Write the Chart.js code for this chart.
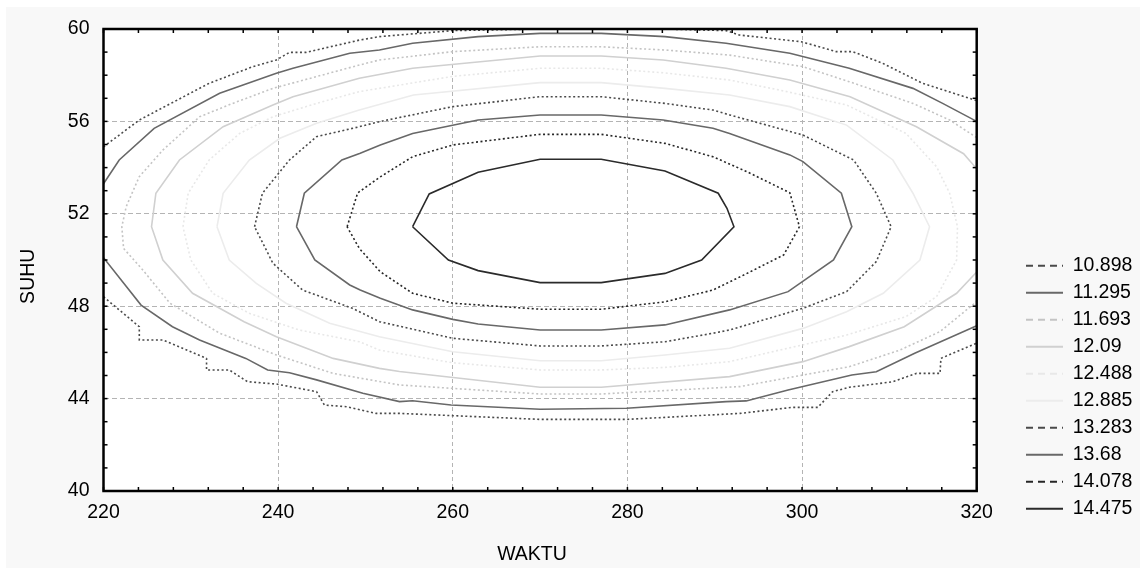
<!DOCTYPE html>
<html>
<head>
<meta charset="utf-8">
<title>Kontur SUHU vs WAKTU</title>
<script src="https://cdn.jsdelivr.net/npm/chart.js@4.4.1/dist/chart.umd.min.js"></script>
<style>
  html, body { margin: 0; padding: 0; background: #fff; }
  #wrap { width: 1140px; height: 568px; }
</style>
</head>
<body>
<div id="wrap"><canvas id="contour" width="1140" height="568"></canvas></div>
<script>
// contour levels, as printed in the legend
const levels = ['10.898', '11.295', '11.693', '12.09', '12.488', '12.885', '13.283', '13.68', '14.078', '14.475'];

const xTicks = [220, 240, 260, 280, 300, 320];
const yTicks = [40, 44, 48, 52, 56, 60];

// [WAKTU, SUHU] pairs; open contours are split in two pieces
const c10898Top = [[220, 54.9], [224.1, 56.06], [232.1, 57.65], [237.1, 58.37], [239.8, 58.66], [241.3, 58.99], [243.2, 58.99],
  [249.3, 59.52], [251.6, 59.67], [260, 59.93], [270, 60.0], [284, 60.0], [291.3, 59.93], [292.8, 59.74], [299.9, 59.45],
  [303.9, 59.02], [305.8, 59.02], [309.2, 58.52], [313.8, 57.65], [320, 56.9]];
const c10898Bottom = [[220, 48.41], [224.1, 47.11], [224.1, 46.54], [226.8, 46.54], [231.8, 45.74], [231.8, 45.24], [234.4, 45.24],
  [236.5, 44.73], [239.8, 44.63], [244.4, 44.3], [245.3, 43.72], [247.8, 43.65], [251.2, 43.36], [253.9, 43.36], [270, 43.1],
  [279.9, 43.1], [292.9, 43.36], [298.9, 43.62], [301.8, 43.62], [303.5, 44.3], [305.4, 44.49], [310.4, 44.73], [313.1, 45.09],
  [315.8, 45.09], [315.9, 45.74], [320, 46.4]];

const c11295Top = [[220, 53.3], [221.8, 54.33], [225.8, 55.7], [233.3, 57.22], [239.8, 58.08], [241.7, 58.3], [248.2, 58.95],
  [251.6, 59.09], [255.4, 59.38], [262.9, 59.67], [270, 59.81], [277, 59.81], [284.3, 59.67], [291.3, 59.38], [298.6, 58.95],
  [305.4, 58.3], [312.7, 57.43], [316.1, 56.78], [320, 56.0]];
const c11295Bottom = [[220, 50.1], [224.3, 48.05], [227.9, 47.11], [231, 46.54], [236.3, 45.74], [238.8, 45.24], [241.3, 45.12],
  [244.4, 44.81], [249.7, 44.23], [253.9, 43.87], [255.4, 43.91], [259.8, 43.72], [270, 43.54], [279.9, 43.58], [291.3, 43.87],
  [293.6, 43.9], [298.4, 44.37], [305.7, 45.02], [308.5, 45.16], [312.9, 45.96], [320, 47.15]];

const c11693 = [[320, 55.3], [316.9, 56.06], [312.7, 56.78], [305.4, 57.72], [300.1, 58.37], [291.7, 58.87], [284.3, 59.09],
  [277, 59.23], [270, 59.23], [260, 59.02], [251.6, 58.66], [249.3, 58.44], [239.4, 57.43], [234.8, 56.78], [231, 56.2],
  [226.8, 54.76], [224.1, 53.61], [222.6, 52.31], [222.1, 51.44], [222.3, 50.5], [224.5, 49.57], [227.6, 48.13], [233.3, 46.83],
  [239.8, 45.89], [246.3, 45.09], [253.9, 44.59], [270, 44.2], [277, 44.2], [292.9, 44.52], [300.1, 45.02], [305.4, 45.38],
  [311.2, 46.1], [315.8, 46.9], [320, 48.2]];

const c12090 = [[320, 53.95], [318.5, 54.6], [313.1, 55.77], [305.5, 57.07], [298.6, 57.79], [291.3, 58.3], [284.1, 58.66],
  [277, 58.83], [270, 58.83], [255.4, 58.3], [249.3, 57.87], [241.7, 57.07], [239.4, 56.71], [233.7, 55.77], [228.7, 54.33],
  [226, 52.89], [225.5, 51.44], [226.8, 50.0], [230.2, 48.56], [236.1, 47.33], [239.8, 46.68], [246.3, 45.74], [251.6, 45.31],
  [253.9, 45.17], [270, 44.49], [277, 44.49], [291.7, 44.95], [300.1, 45.6], [305.4, 46.25], [311.7, 47.11], [317.7, 48.56],
  [320, 49.48]];

const c12488 = [[229.1, 51.44], [229.7, 52.89], [232.1, 54.33], [235.6, 55.48], [239.4, 56.2], [244.4, 56.78], [249.3, 57.29],
  [251.6, 57.43], [260, 57.95], [270, 58.3], [277, 58.3], [284.3, 58.1], [291.7, 57.79], [297.4, 57.36], [305.1, 56.71],
  [311.9, 55.48], [315.4, 54.04], [316.9, 52.89], [317.8, 51.44], [317.7, 50.0], [315.4, 48.41], [311.9, 47.55], [305.1, 46.75],
  [297.4, 46.1], [291.7, 45.6], [284.3, 45.35], [277, 45.24], [270, 45.24], [260, 45.55], [251.6, 46.1], [249.3, 46.46],
  [242.4, 46.97], [236.7, 47.69], [232.5, 48.56], [230, 50.0], [229.1, 51.44]];

const c12885 = [[233, 51.44], [233.7, 52.89], [236.7, 54.33], [240.2, 55.27], [244.4, 55.92], [249.3, 56.49], [255.5, 57.14],
  [270, 57.68], [277, 57.68], [284.3, 57.43], [291.7, 57.14], [298.6, 56.64], [305.1, 55.84], [310.4, 54.33], [312.7, 52.89],
  [314.6, 51.44], [313.5, 50.0], [309.3, 48.56], [305.1, 47.76], [300.1, 47.04], [291.7, 46.18], [284.3, 45.89], [277, 45.64],
  [270, 45.64], [260, 46.03], [251.6, 46.68], [245.9, 47.26], [240.9, 48.13], [237.5, 48.99], [234.4, 50.0], [233, 51.44]];

const c13283 = [[237.3, 51.44], [238.2, 52.89], [241.3, 54.33], [244.4, 55.34], [249.3, 55.77], [251.6, 55.99], [260, 56.64],
  [270, 57.07], [277, 57.07], [284.3, 56.78], [289.8, 56.49], [291.7, 56.28], [300.1, 55.41], [305.9, 54.33], [308.5, 52.89],
  [310.2, 51.44], [308.5, 49.93], [305.1, 48.63], [300.1, 47.91], [291.7, 46.97], [289.8, 46.83], [284.3, 46.46], [277, 46.28],
  [270, 46.28], [260, 46.61], [251.6, 47.33], [248.5, 47.91], [242.8, 48.7], [239.4, 49.86], [237.3, 51.44]];

const c13680 = [[242.1, 51.44], [243, 52.89], [247.3, 54.33], [249.4, 54.62], [251.7, 54.98], [255.4, 55.48], [262.9, 56.06],
  [270, 56.28], [277, 56.28], [284.1, 56.06], [289.8, 55.7], [291.7, 55.48], [298.6, 54.55], [300.1, 54.26], [304.5, 52.89],
  [305.7, 51.44], [303.6, 50.0], [298.4, 48.63], [291.7, 47.84], [284.3, 47.19], [277, 46.97], [270, 46.97], [262.9, 47.23],
  [260, 47.43], [255.4, 47.84], [251.7, 48.34], [249.4, 48.7], [248.2, 48.92], [244.2, 50.0], [242.1, 51.44]];

const c14078 = [[247.9, 51.44], [249.1, 52.9], [251.7, 53.6], [255.4, 54.47], [260, 54.98], [270, 55.44], [277, 55.44],
  [284.3, 55.05], [289.8, 54.47], [293.7, 53.82], [298.6, 52.91], [299.7, 51.44], [297.9, 50.22], [293.7, 49.42], [289.8, 48.7],
  [284.3, 48.19], [277, 47.87], [270, 47.87], [260, 48.13], [255.4, 48.56], [251.7, 49.49], [249.3, 50.5], [247.9, 51.44]];

const c14475 = [[255.4, 51.44], [257.3, 52.86], [262.9, 53.8], [270, 54.36], [277, 54.36], [284.3, 53.85], [290.4, 52.89],
  [291.4, 52.24], [292.2, 51.44], [288.5, 50.0], [284.3, 49.42], [277, 49.02], [270, 49.02], [262.9, 49.54], [259.5, 50.0],
  [255.4, 51.44]];

const lines = [
  c10898Top.concat([null], c10898Bottom),
  c11295Top.concat([null], c11295Bottom),
  c11693, c12090, c12488, c12885, c13283, c13680, c14078, c14475
];

// look of each level
const colors = ['#4a4a4a', '#686868', '#c4c4c4', '#d0d0d0', '#e8e8e8', '#ececec', '#4a4a4a', '#686868', '#262626', '#2b2b2b'];
const dotted = [true, false, true, false, true, false, true, false, true, false];

const font = "'Liberation Sans', Arial, Helvetica, sans-serif";
const fontSize = 19.5;

const toPoints = pts => pts.map(p => p ? { x: p[0], y: p[1] } : { x: null, y: null });

const datasets = levels.map((lvl, i) => ({
  label: lvl,
  data: toPoints(lines[i]),
  showLine: true,
  borderColor: colors[i],
  backgroundColor: colors[i],
  borderWidth: 1.6,
  borderDash: dotted[i] ? [2, 2.5] : [],
  borderCapStyle: 'butt',
  pointRadius: 0,
  pointHoverRadius: 0,
  tension: 0,
  fill: false,
  spanGaps: false
}));

// light grey page with a white plot area
const panel = {
  id: 'panel',
  beforeDraw(chart) {
    const { ctx, chartArea: a } = chart;
    ctx.save();
    ctx.fillStyle = '#ffffff';
    ctx.fillRect(0, 0, chart.width, chart.height);
    ctx.fillStyle = '#f8f8f8';
    ctx.fillRect(6, 7, chart.width - 6, chart.height - 7);
    ctx.fillStyle = '#ffffff';
    ctx.fillRect(a.left, a.top, a.right - a.left, a.bottom - a.top);
    ctx.restore();
    // legend sits low on the right, below the top of the plot
    const lg = chart.legend;
    lg.left = 1018.5; lg.right = chart.width;
    lg.top = 248.5; lg.bottom = chart.height;
  }
};

// black frame with small inward ticks on all four sides
const frame = {
  id: 'frame',
  afterDatasetsDraw(chart) {
    const { ctx, chartArea: a, scales: { x, y } } = chart;
    const seg = (x1, y1, x2, y2) => { ctx.beginPath(); ctx.moveTo(x1, y1); ctx.lineTo(x2, y2); ctx.stroke(); };
    ctx.save();
    ctx.strokeStyle = '#000';
    ctx.lineWidth = 1.5;
    for (let v = x.min; v <= x.max; v += 4) {
      const px = x.getPixelForValue(v);
      seg(px, a.bottom, px, a.bottom - 4);
      seg(px, a.top, px, a.top + 4);
    }
    for (let v = y.min; v <= y.max; v += 1) {
      const py = y.getPixelForValue(v);
      seg(a.left, py, a.left + 4, py);
      seg(a.right, py, a.right - 4, py);
    }
    ctx.lineWidth = 2.5;
    ctx.strokeRect(a.left, a.top, a.right - a.left, a.bottom - a.top);
    ctx.restore();
  }
};

const gridColor = c => (c.tick && (c.tick.value === c.scale.min || c.tick.value === c.scale.max)) ? 'rgba(0,0,0,0)' : '#b4b4b4';

new Chart(document.getElementById('contour'), {
  type: 'scatter',
  data: { datasets },
  options: {
    responsive: false,
    devicePixelRatio: 1,
    animation: false,
    layout: { padding: { left: 0, top: 29, right: 63.3, bottom: 0 } },
    scales: {
      x: {
        type: 'linear',
        min: 220,
        max: 320,
        afterBuildTicks: s => { s.ticks = xTicks.map(v => ({ value: v })); },
        afterFit: s => { s.height = 77; },
        ticks: { color: '#000', padding: 10.3, font: { family: font, size: fontSize } },
        grid: { color: gridColor, lineWidth: 1, drawTicks: false },
        border: { display: false, dash: [4, 3] },
        // trailing spaces nudge the centred title a little left, as in the original
        title: { display: true, text: 'WAKTU   ', color: '#000', font: { family: font, size: fontSize }, padding: { top: 0, bottom: 1.3 } }
      },
      y: {
        type: 'linear',
        min: 40,
        max: 60,
        afterBuildTicks: s => { s.ticks = yTicks.map(v => ({ value: v })); },
        afterFit: s => { s.width = 103.5; },
        ticks: { color: '#000', padding: 14, font: { family: font, size: fontSize } },
        grid: { color: gridColor, lineWidth: 1, drawTicks: false },
        border: { display: false, dash: [5, 3] },
        // trailing spaces push the rotated title down a bit
        title: { display: true, text: 'SUHU      ', color: '#000', font: { family: font, size: fontSize }, padding: { top: 17, bottom: 0 } }
      }
    },
    plugins: {
      tooltip: { enabled: false },
      legend: {
        position: 'right',
        align: 'start',
        maxWidth: 100,
        labels: {
          usePointStyle: true,
          pointStyle: 'line',
          pointStyleWidth: 37,
          padding: 7.5,
          color: '#000',
          font: { family: font, size: fontSize },
          generateLabels(chart) {
            const items = Chart.defaults.plugins.legend.labels.generateLabels(chart);
            items.forEach((it, i) => {
              it.lineDash = dotted[i] ? [7, 5] : [];
              it.lineWidth = 2;
            });
            return items;
          }
        }
      }
    }
  },
  plugins: [panel, frame]
});
</script>
</body>
</html>
